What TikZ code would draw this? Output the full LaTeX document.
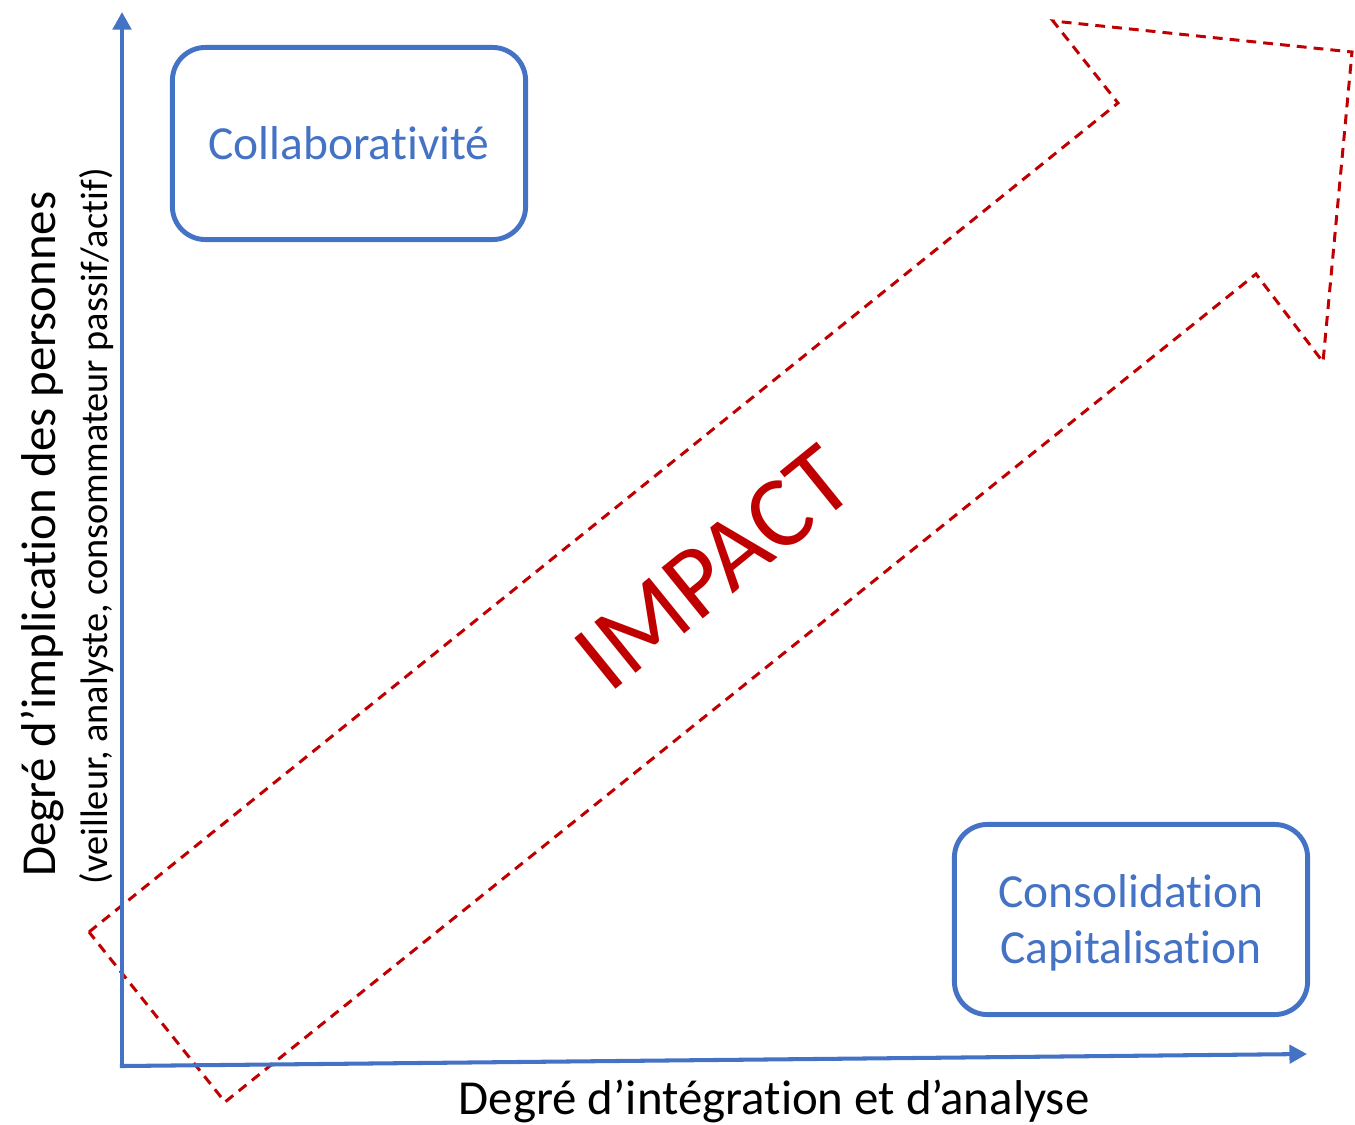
\documentclass[tikz,border=0pt]{standalone}
\usepackage{fontspec}
\setmainfont{Carlito}[Ligatures={NoCommon}]
\usetikzlibrary{arrows.meta,positioning}
\definecolor{axisblue}{HTML}{4472C4}
\definecolor{impactred}{HTML}{C00000}

\begin{document}
\begin{tikzpicture}[x=0.01cm,y=-0.01cm,
    axis/.style={draw=axisblue, line width=1.15pt, line cap=rect, -{Triangle[length=5pt,width=5.2pt]}},
    quadrant/.style={draw=axisblue, line width=1.4pt, rounded corners=0.33cm, text=axisblue, align=center, minimum width=3.53cm, font=\fontsize{13.5}{15.9}\selectfont},
    axislabel/.style={font=\fontsize{13.9}{16}\selectfont, inner sep=0pt, anchor=base}]
    \useasboundingbox (0,0) rectangle (1355,1124);

    \coordinate (origin) at (122,1066);
    \coordinate (ytip) at (122,12);
    \coordinate (xtip) at (1307,1054);

    % dashed impact arrow
    \draw[impactred, line width=0.85pt, dash pattern=on 2.8pt off 2pt]
        (89,932) -- (1118,103) -- (1053,21) -- (1352,52) -- (1323,362) -- (1256,274) -- (225,1102) -- cycle;
    \node[text=impactred, font=\fontsize{29}{34}\selectfont, rotate=39] (impact) at (714,568) {IMPACT};

    \draw[axis] (origin) -- (ytip);
    \draw[axis] (origin) -- (xtip);

    \node[quadrant, minimum height=1.92cm] (collab) at (349,143.5) {Collaborativité};
    \node[quadrant, minimum height=1.90cm] (consol) at (1131,919.5) {\rule{0pt}{0.4cm}Consolidation\\Capitalisation};

    \node[axislabel, rotate=90] (ylabel) at (55,534) {Degré d’implication des personnes};
    \node[axislabel, rotate=90, font=\fontsize{10.9}{13}\selectfont] (ysub) at (107,526) {(veilleur, analyste, consommateur passif/actif)};
    \node[axislabel] (xlabel) at (774,1114) {Degré d’intégration et d’analyse};
\end{tikzpicture}
\end{document}
